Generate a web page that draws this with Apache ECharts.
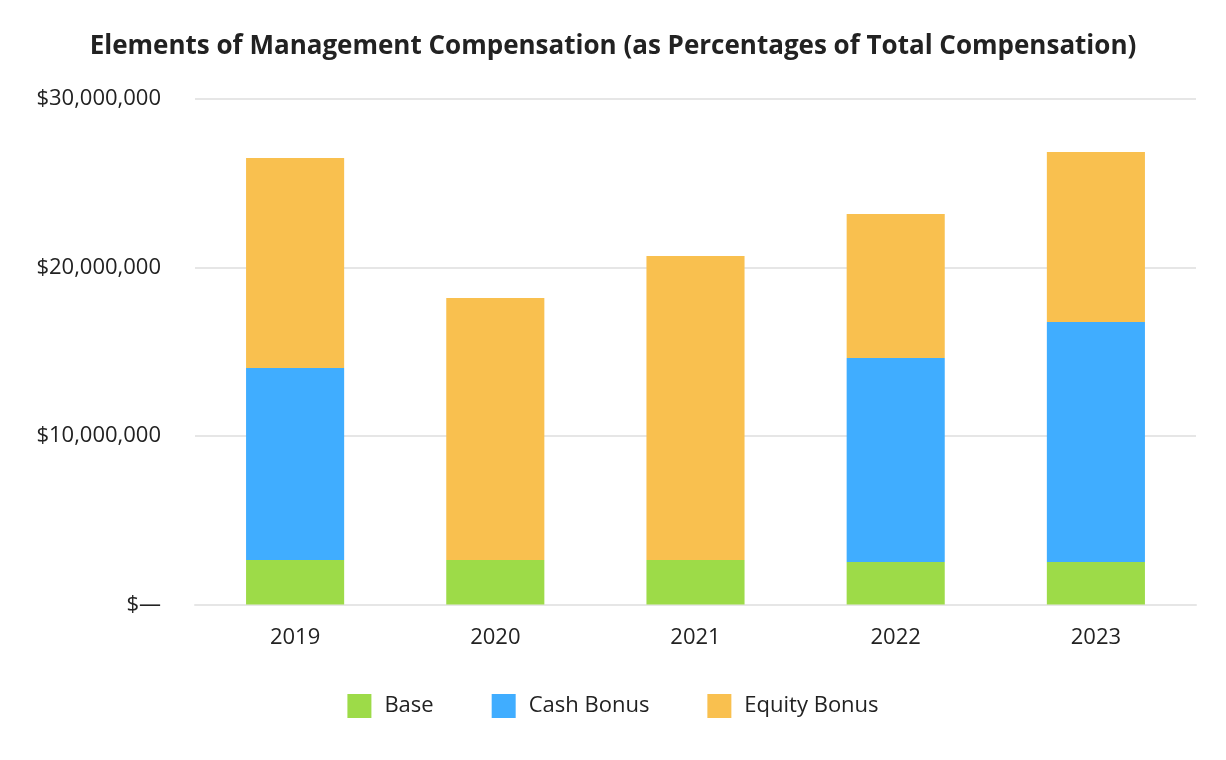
<!DOCTYPE html>
<html><head><meta charset="utf-8">
<script src="https://cdn.jsdelivr.net/npm/echarts@6/dist/echarts.min.js"></script>
<style>html,body{margin:0;padding:0;background:#fff}#c{width:1226px;height:760px}</style>
</head><body><div id="c"></div>
<script>
const categories = ['2019','2020','2021','2022','2023'];
const baseVals = [2640000, 2640000, 2640000, 2520000, 2520000];
const cashVals = [11400000, 0, 0, 12110000, 14250000];
const equityVals = [12460000, 15550000, 18040000, 8550000, 10080000];
const yTicks = [0, 10000000, 20000000, 30000000];

const font = '"Open Sans", "Noto Sans", sans-serif';
const chart = echarts.init(document.getElementById('c'));
function fmt(v){ return v === 0 ? '$\u2014' : '$' + v.toLocaleString('en-US'); }
chart.setOption({
  animation: false,
  title: {
    text: 'Elements of Management Compensation (as Percentages of Total Compensation)',
    left: 'center', top: 29,
    textStyle: { fontFamily: font, fontSize: 26, fontWeight: 'bold', color: '#222' }
  },
  legend: {
    bottom: 37, left: 'center', itemWidth: 24, itemHeight: 24, itemGap: 58,
    icon: 'rect',
    textStyle: { fontFamily: font, fontSize: 22, color: '#222', padding: [0,0,0,8] },
    data: ['Base','Cash Bonus','Equity Bonus']
  },
  grid: { left: 195, right: 30, top: 99, bottom: 155.5 },
  xAxis: {
    type: 'category', data: categories,
    axisLine: { show: true, lineStyle: { color: '#e6e6e6', width: 2 } },
    axisTick: { show: false },
    axisLabel: { fontFamily: font, fontSize: 22, color: '#222', margin: 22 }
  },
  yAxis: {
    type: 'value', min: yTicks[0], max: yTicks[yTicks.length-1], interval: 10000000,
    axisLine: { show: false }, axisTick: { show: false },
    splitLine: { lineStyle: { color: '#e6e6e6', width: 2 } },
    axisLabel: { fontFamily: font, fontSize: 22, color: '#222', margin: 34, formatter: fmt }
  },
  series: [
    { name: 'Base', type: 'bar', stack: 's', data: baseVals, barWidth: '49%', itemStyle: { color: '#9ddb48' } },
    { name: 'Cash Bonus', type: 'bar', stack: 's', data: cashVals, itemStyle: { color: '#40adff' } },
    { name: 'Equity Bonus', type: 'bar', stack: 's', data: equityVals, itemStyle: { color: '#f9c04f' } }
  ]
});
</script></body></html>
